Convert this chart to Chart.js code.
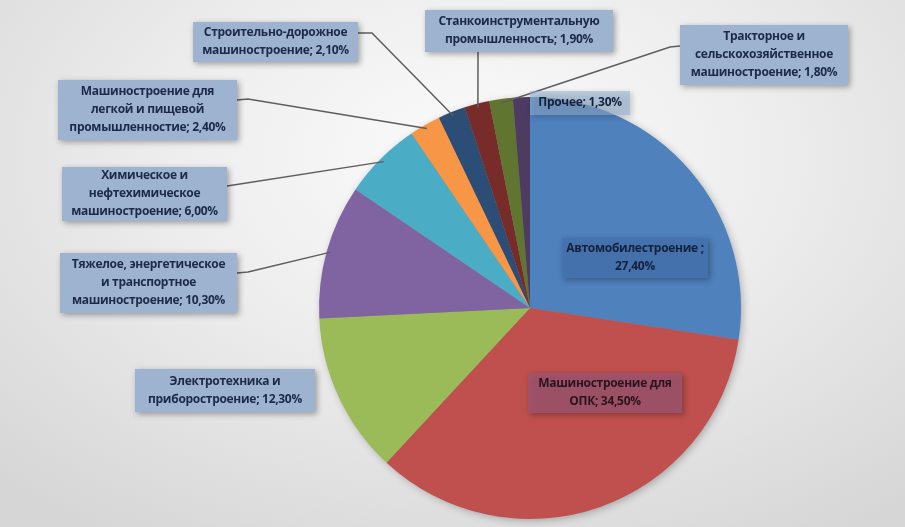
<!DOCTYPE html>
<html>
<head>
<meta charset="utf-8">
<script src="https://cdn.jsdelivr.net/npm/chart.js@4.4.1/dist/chart.umd.min.js"></script>
<style>
  html, body { margin: 0; padding: 0; }
  body {
    width: 905px; height: 527px; overflow: hidden;
    background: radial-gradient(ellipse 75% 85% at 52% 30%, #fbfbfb 0%, #ededed 45%, #d6d6d6 100%);
  }
  #wrap { position: relative; width: 905px; height: 527px; }
</style>
</head>
<body>
<div id="wrap"><canvas id="pie" width="905" height="527"></canvas></div>
<script>
// slices, clockwise from 12 o'clock
const categories = [
    'Автомобилестроение',
    'Машиностроение для ОПК',
    'Электротехника и приборостроение',
    'Тяжелое, энергетическое и транспортное машиностроение',
    'Химическое и нефтехимическое машиностроение',
    'Машиностроение для легкой и пищевой промышленностие',
    'Строительно-дорожное машиностроение',
    'Станкоинструментальную промышленность',
    'Тракторное и сельскохозяйственное машиностроение',
    'Прочее'
];
const values = [27.4, 34.5, 12.3, 10.3, 6.0, 2.4, 2.1, 1.9, 1.8, 1.3];
const colors = ['#4F81BD', '#C0504D', '#9BBB59', '#8064A2', '#4BACC6',
                '#F79646', '#2C4D75', '#772C2A', '#5F7530', '#4D3B62'];

// label text as it is broken into lines on the picture
const labelLines = [
    ['Автомобилестроение ;', '27,40%'],
    ['Машиностроение для', 'ОПК; 34,50%'],
    ['Электротехника и', 'приборостроение; 12,30%'],
    ['Тяжелое, энергетическое', 'и транспортное', 'машиностроение; 10,30%'],
    ['Химическое и', 'нефтехимическое', 'машиностроение; 6,00%'],
    ['Машиностроение для', 'легкой и пищевой', 'промышленностие; 2,40%'],
    ['Строительно-дорожное', 'машиностроение; 2,10%'],
    ['Станкоинструментальную', 'промышленность; 1,90%'],
    ['Тракторное и', 'сельскохозяйственное', 'машиностроение; 1,80%'],
    ['Прочее; 1,30%']
];

// box placement: x, y, w, h, then where the leader leaves the box and its kink
const labelBoxes = [
    { x: 562, y: 238, w: 146, h: 40, fill: 'rgba(70,115,175,0.9)', text: '#14213d' },
    { x: 528, y: 373, w: 154, h: 40, fill: 'rgba(160,85,110,0.85)', text: '#2a1420' },
    { x: 135, y: 369, w: 180, h: 43 },
    { x: 60, y: 253, w: 177, h: 60, from: [237, 273], kink: [248, 272] },
    { x: 62, y: 167, w: 165, h: 54, from: [227, 186], kink: [240, 184] },
    { x: 58, y: 80, w: 179, h: 60, from: [237, 100], kink: [248, 99] },
    { x: 193, y: 22, w: 165, h: 40, from: [358, 33], kink: [372, 33] },
    { x: 425, y: 10, w: 188, h: 42, from: [478, 52], kink: [478, 53] },
    { x: 680, y: 25, w: 168, h: 60, from: [680, 46], kink: [670, 47] },
    { x: 530, y: 91, w: 100, h: 24, fill: 'rgba(150,178,215,0.55)', text: '#14213d' }
];

const labelPlugin = {
    id: 'boxLabels',
    beforeDatasetsDraw(chart) {
        const ctx = chart.ctx;
        ctx.save();
        ctx.shadowColor = 'rgba(0,0,0,0.3)';
        ctx.shadowBlur = 8;
        ctx.shadowOffsetX = 2;
        ctx.shadowOffsetY = 2;
        const a = chart.getDatasetMeta(0).data[0];
        ctx.fillStyle = '#888';
        ctx.beginPath();
        ctx.arc(a.x, a.y, a.outerRadius - 1, 0, Math.PI * 2);
        ctx.fill();
        ctx.restore();
    },
    afterDatasetsDraw(chart) {
        const ctx = chart.ctx;
        const arcs = chart.getDatasetMeta(0).data;
        ctx.save();
        // leader lines
        ctx.strokeStyle = '#5e5e5e';
        ctx.lineWidth = 1.5;
        labelBoxes.forEach((b, i) => {
            if (!b.from) return;
            const arc = arcs[i];
            const mid = (arc.startAngle + arc.endAngle) / 2;
            const ex = arc.x + Math.cos(mid) * (arc.outerRadius - 4);
            const ey = arc.y + Math.sin(mid) * (arc.outerRadius - 4);
            ctx.beginPath();
            ctx.moveTo(b.from[0], b.from[1]);
            ctx.lineTo(b.kink[0], b.kink[1]);
            ctx.lineTo(ex, ey);
            ctx.stroke();
        });
        // boxes
        labelBoxes.forEach((b, i) => {
            ctx.save();
            ctx.shadowColor = 'rgba(0,0,0,0.35)';
            ctx.shadowBlur = 6;
            ctx.shadowOffsetX = 2;
            ctx.shadowOffsetY = 2;
            ctx.fillStyle = b.fill || '#9DB3D0';
            ctx.fillRect(b.x, b.y, b.w, b.h);
            ctx.restore();
            const lines = labelLines[i];
            const lh = 18;
            ctx.fillStyle = b.text || '#1c2a47';
            ctx.font = 'bold 12px "Open Sans"';
            ctx.letterSpacing = '-0.3px';
            ctx.textAlign = 'center';
            ctx.textBaseline = 'middle';
            const cy = b.y + b.h / 2 - (lines.length - 1) * lh / 2;
            lines.forEach((t, k) => ctx.fillText(t, b.x + b.w / 2, cy + k * lh));
        });
        ctx.restore();
    }
};

new Chart(document.getElementById('pie'), {
    type: 'pie',
    data: {
        labels: categories,
        datasets: [{
            data: values,
            backgroundColor: colors,
            borderWidth: 0
        }]
    },
    options: {
        responsive: false,
        animation: false,
        layout: { padding: { top: 97, bottom: 8, left: 319, right: 164 } },
        plugins: {
            legend: { display: false },
            tooltip: { enabled: false }
        }
    },
    plugins: [labelPlugin]
});
</script>
</body>
</html>
